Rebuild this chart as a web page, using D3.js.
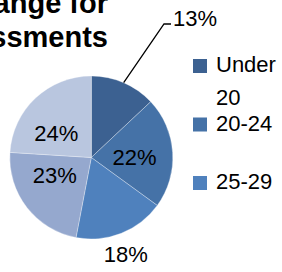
<!DOCTYPE html>
<html>
<head>
<meta charset="utf-8">
<script src="https://cdn.jsdelivr.net/npm/d3@7"></script>
<style>
  body { margin: 0; background: #fff; overflow: hidden; }
  svg { display: block; font-family: "Liberation Sans", Arial, sans-serif; }
</style>
</head>
<body>
<svg id="chart" width="282" height="272"></svg>
<script>
// data
var ages = ["Under 20", "20-24", "25-29", "30-34", "35+"];
var shares = [13, 22, 18, 23, 24];
var colours = ["#3c6191", "#4572a7", "#4f81bd", "#95a8ce", "#b9c6df"];
var titleLines = ["Age Range for", "Assessments"];

var svg = d3.select("#chart"),
  cx = 91.3,
  cy = 157.5,
  radius = 81.5;

// title (runs off the left edge like the original)
svg.append("g")
  .selectAll("text")
  .data(titleLines)
  .enter()
  .append("text")
  .attr("x", 108)
  .attr("y", function (d, i) { return 13 + i * 34; })
  .attr("text-anchor", "end")
  .style("font-size", "29px")
  .style("font-weight", "bold")
  .text(function (d) { return d; });

// pie
var pie = d3.pie().sort(null).value(function (d) { return d; });
var arcs = pie(shares);
var arc = d3.arc().innerRadius(0).outerRadius(radius);
var edgeArc = d3.arc().innerRadius(radius).outerRadius(radius);
var inArc = d3.arc().innerRadius(radius * 0.52).outerRadius(radius * 0.52);
var outArc = d3.arc().innerRadius(radius * 1.28).outerRadius(radius * 1.28);

var g = svg.append("g").attr("transform", "translate(" + cx + "," + cy + ")");

g.selectAll("path")
  .data(arcs)
  .enter()
  .append("path")
  .attr("d", arc)
  .attr("fill", function (d, i) { return colours[i]; })
  .attr("stroke", "#ffffff")
  .attr("stroke-opacity", 0.5)
  .attr("stroke-width", 0.6);

// labels: 0 = leader line, 2 = outside, rest inside
var placement = ["leader", "in", "out", "in", "in"];
// small nudges for the left-hand labels (excel best fit)
var nudge = [[0, 0], [1, 2], [-4, 0], [-3, -8], [-6, 7]];

arcs.forEach(function (d, i) {
  var txt = shares[i] + "%";
  if (placement[i] === "in") {
    var c = inArc.centroid(d);
    g.append("text")
      .attr("x", c[0] + nudge[i][0]).attr("y", c[1] + nudge[i][1])
      .attr("text-anchor", "middle")
      .attr("dy", "0.35em")
      .style("font-size", "22px")
      .text(txt);
  } else if (placement[i] === "out") {
    var o = outArc.centroid(d);
    g.append("text")
      .attr("x", o[0] + nudge[i][0]).attr("y", o[1] + nudge[i][1])
      .attr("text-anchor", "middle")
      .attr("dy", "0.35em")
      .style("font-size", "22px")
      .text(txt);
  } else {
    var e = edgeArc.centroid(d);
    var corner = [164 - cx, 24 - cy];
    var end = [171 - cx, 24 - cy];
    g.append("polyline")
      .attr("points", [e, corner, end].map(function (p) { return p.join(","); }).join(" "))
      .attr("fill", "none")
      .attr("stroke", "#000")
      .attr("stroke-width", 1.3);
    g.append("text")
      .attr("x", 173 - cx).attr("y", 26 - cy)
      .style("font-size", "22px")
      .text(txt);
  }
});

// legend (only the first three entries fit)
var legendY = d3.scaleLinear().domain([0, 1]).range([59, 117.5]);
var legend = svg.append("g");
ages.slice(0, 3).forEach(function (name, i) {
  var y = legendY(i);
  legend.append("rect")
    .attr("x", 193).attr("y", y)
    .attr("width", 14).attr("height", 14)
    .attr("fill", colours[i]);
  var t = legend.append("text")
    .attr("x", 216).attr("y", y + 13)
    .style("font-size", "22px");
  name.split(" ").forEach(function (word, j) {
    t.append("tspan")
      .attr("x", 216)
      .attr("dy", j === 0 ? 0 : 33)
      .text(word);
  });
});
</script>
</body>
</html>
